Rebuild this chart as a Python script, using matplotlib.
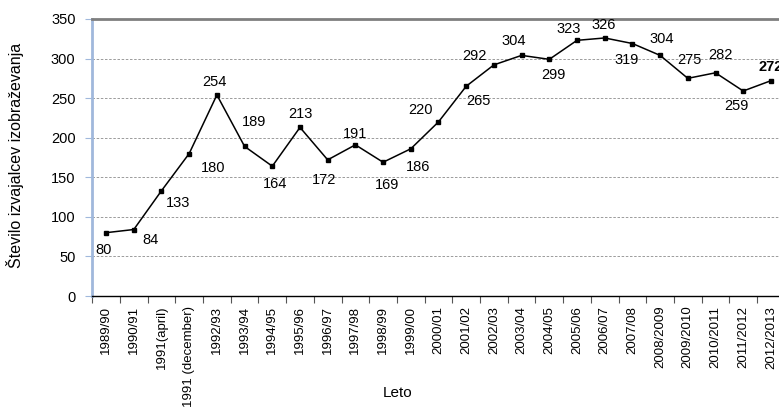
import matplotlib.pyplot as plt
from matplotlib.ticker import FixedLocator

plt.rcParams['font.family'] = ['Liberation Sans', 'DejaVu Sans']

years = ['1989/90', '1990/91', '1991(april)', '1991 (december)', '1992/93', '1993/94',
         '1994/95', '1995/96', '1996/97', '1997/98', '1998/99', '1999/00', '2000/01',
         '2001/02', '2002/03', '2003/04', '2004/05', '2005/06', '2006/07', '2007/08',
         '2008/2009', '2009/2010', '2010/2011', '2011/2012', '2012/2013']
counts = [80, 84, 133, 180, 254, 189, 164, 213, 172, 191, 169, 186, 220,
          265, 292, 304, 299, 323, 326, 319, 304, 275, 282, 259, 272]

# label offsets in pixels (dx right, dy down)
label_off = [(-3, 17), (17, 10), (17, 12), (24, 14), (-2, -13), (9, -24), (3, 18),
             (0, -13), (-4, 20), (0, -11), (4, 23), (7, 18), (-18, -12), (12, 15),
             (-19, -9), (-8, -14), (4, 16), (-8, -11), (-1, -13), (-6, 16), (2, -16),
             (2, -18), (5, -18), (-7, 15), (0, -14)]

fig = plt.figure(figsize=(7.79, 4.08), dpi=100)
ax = fig.add_axes([0.1184, 0.2745, 0.889, 0.679])

x = list(range(len(years)))
ax.plot(x, counts, color='black', lw=1.1, marker='s', markersize=2.6, zorder=3)

for i, (v, (dx, dy)) in enumerate(zip(counts, label_off)):
    ax.annotate(str(v), (i, v), xytext=(dx, -dy), textcoords='offset pixels',
                ha='center', va='center', fontsize=10.5,
                fontweight='bold' if i == len(counts) - 1 else 'normal')

ax.set_xlim(-0.5, len(years) - 0.5)
ax.set_ylim(0, 350)
ax.set_yticks(range(0, 351, 50))
ax.set_xticks(x)
ax.set_xticklabels(years, rotation=90, fontsize=9.5)
ax.xaxis.set_minor_locator(FixedLocator([i - 0.5 for i in range(len(years) + 1)]))
ax.tick_params(axis='x', which='major', length=0, pad=7)
ax.tick_params(axis='x', which='minor', length=5, color='#555555', width=0.8)
ax.tick_params(axis='y', length=5, color='#a0b8dc', width=0.8, pad=7, labelsize=10.5)

for yv in range(50, 350, 50):
    ax.axhline(yv, color='#8c8c8c', lw=0.6, ls=(0, (3, 2)), zorder=1)

ax.spines['top'].set_color('#7f7f7f')
ax.spines['top'].set_linewidth(2)
ax.spines['right'].set_visible(False)
ax.spines['left'].set_color('#a0b8dc')
ax.spines['left'].set_linewidth(2)
ax.spines['bottom'].set_color('black')
ax.spines['bottom'].set_linewidth(1)

fig.text(15 / 779, 1 - 155 / 408, 'Število izvajalcev izobraževanja', rotation=90,
         ha='center', va='center', fontsize=11.5)
fig.text(398 / 779, 1 - 393 / 408, 'Leto', ha='center', va='center', fontsize=11)

fig.savefig('out.png', dpi=100)
